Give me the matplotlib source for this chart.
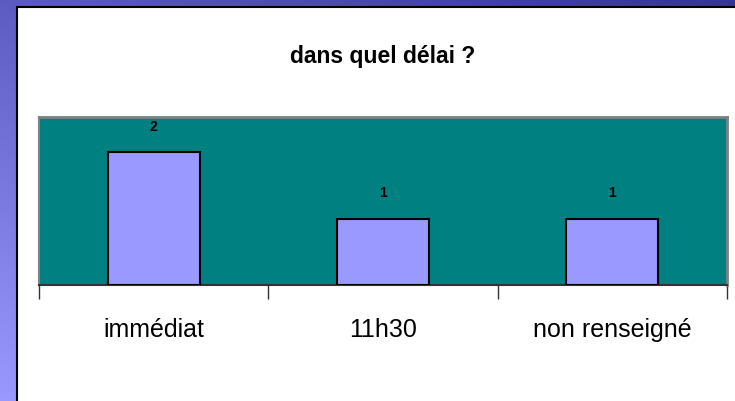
import matplotlib
matplotlib.use("Agg")
import matplotlib.pyplot as plt
import numpy as np
from matplotlib.patches import Rectangle

categories = ["immédiat", "11h30", "non renseigné"]
values = [2, 1, 1]
title = "dans quel délai ?"

W, H = 735, 401
fig = plt.figure(figsize=(W/100, H/100), dpi=100)

# background gradient frame
bg = fig.add_axes([0, 0, 1, 1])
bg.set_xlim(0, W); bg.set_ylim(H, 0); bg.axis("off")
yy, xx = np.mgrid[0:H, 0:W]
t = np.clip(0.6*(yy/H) + 0.4*(1 - xx/W), 0, 1)
c0 = np.array([0x33, 0x33, 0x99]) / 255
c1 = np.array([0x99, 0x99, 0xff]) / 255
img = c0[None, None, :] * (1 - t[..., None]) + c1[None, None, :] * t[..., None]
bg.imshow(img, extent=[0, W, H, 0], aspect="auto")
bg.add_patch(Rectangle((17.5, 7), W, H, facecolor="white", edgecolor="black", lw=1.5))

fam = ["Liberation Sans Narrow", "Liberation Sans", "DejaVu Sans"]

fig.text(383/W, 1 - 56/H, title, ha="center", va="center", fontsize=16.5,
         fontweight="bold", family=fam)

ax = fig.add_axes([39/W, 1 - 285/H, (727-39)/W, (285-117)/H])
ax.set_facecolor("#008080")
x = np.arange(len(categories))
ax.bar(x, values, width=0.4, color="#9999ff", edgecolor="black", lw=1.5, zorder=3)
ax.set_xlim(-0.5, len(categories) - 0.5)
ax.set_ylim(0, 2.53)
for xi, v in zip(x, values):
    ax.text(xi, v + 0.38, str(v), ha="center", va="center", fontsize=10,
            fontweight="bold", family=fam)
ax.set_yticks([])
ax.set_xticks(np.arange(len(categories) + 1) - 0.5, minor=False)
ax.set_xticklabels([])
ax.tick_params(axis="x", direction="out", length=10, color="#333333", width=1)
for i, c in enumerate(categories):
    ax.text(i, -0.68, c, ha="center", va="center", fontsize=18, family=fam,
            transform=ax.transData)
for s in ["top", "right"]:
    ax.spines[s].set_color("#808080"); ax.spines[s].set_linewidth(2)
ax.spines["left"].set_color("#808080"); ax.spines["left"].set_linewidth(1.5)
ax.spines["bottom"].set_color("#333333"); ax.spines["bottom"].set_linewidth(1.5)

fig.savefig("out.png", dpi=100)
